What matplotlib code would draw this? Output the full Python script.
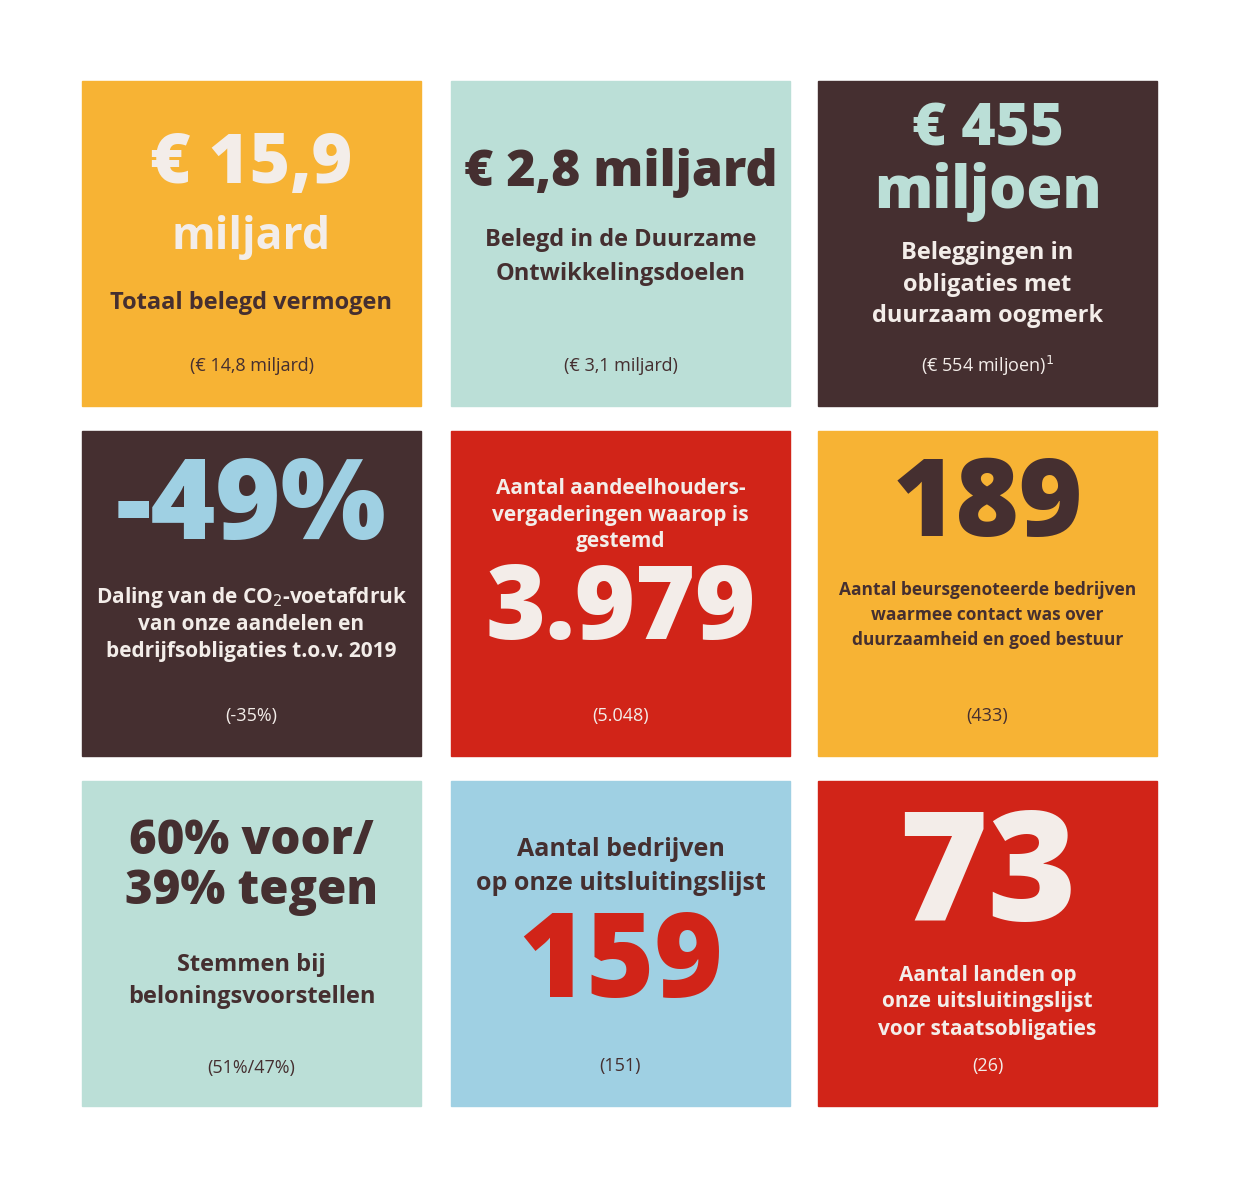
import matplotlib
matplotlib.use("Agg")
import matplotlib.pyplot as plt
from matplotlib.patches import Rectangle

ORANGE, MINT, DARK, RED, BLUE, CREAM = "#F7B334", "#BBDFD7", "#452F30", "#D12418", "#9FD0E3", "#F3EDE9"

headlines = [["€ 15,9"], ["€ 2,8 miljard"], ["€ 455", "miljoen"],
             ["-49%"], ["3.979"], ["189"],
             ["60% voor/", "39% tegen"], ["159"], ["73"]]
subtitles = [["miljard", "Totaal belegd vermogen"],
             ["Belegd in de Duurzame", "Ontwikkelingsdoelen"],
             ["Beleggingen in", "obligaties met", "duurzaam oogmerk"],
             ["Daling van de CO$_2$-voetafdruk", "van onze aandelen en", "bedrijfsobligaties t.o.v. 2019"],
             ["Aantal aandeelhouders-", "vergaderingen waarop is", "gestemd"],
             ["Aantal beursgenoteerde bedrijven", "waarmee contact was over", "duurzaamheid en goed bestuur"],
             ["Stemmen bij", "beloningsvoorstellen"],
             ["Aantal bedrijven", "op onze uitsluitingslijst"],
             ["Aantal landen op", "onze uitsluitingslijst", "voor staatsobligaties"]]
previous = ["(€ 14,8 miljard)", "(€ 3,1 miljard)", "(€ 554 miljoen)$^1$",
            "(-35%)", "(5.048)", "(433)", "(51%/47%)", "(151)", "(26)"]
tile_colors = [ORANGE, MINT, DARK, DARK, RED, ORANGE, MINT, BLUE, RED]
head_colors = [CREAM, DARK, MINT, BLUE, CREAM, DARK, DARK, RED, CREAM]
text_colors = [DARK, DARK, CREAM, CREAM, CREAM, DARK, DARK, DARK, CREAM]

# layout (pixels)
col_x = [82, 451, 818]; row_y = [81, 431, 781]; W, H = 339, 325
head_y = [[84], [92], [49, 111], [79], [181], [77], [61, 111], [185], [101]]
head_fs = [50, 36, 42, 80, 74, 78, 34, 84, 110]
sub_y = [[156, 222], [159, 193], [172, 204, 235], [166, 194, 221], [57, 84, 110],
         [159, 184, 209], [184, 216], [69, 103], [194, 221, 248]]
sub_fs = [[32, 17], 17, 17, 15, 15, 12.5, 17, 18, 15]
prev_y = [285, 285, 285, 285, 285, 285, 287, 285, 285]

fig = plt.figure(figsize=(12.4, 11.81), dpi=100)
ax = fig.add_axes([0, 0, 1, 1])
ax.set_xlim(0, 1240); ax.set_ylim(1181, 0); ax.axis("off")
F = "Open Sans"
for i in range(9):
    x0 = col_x[i % 3]; y0 = row_y[i // 3]; cx = x0 + W / 2
    ax.add_patch(Rectangle((x0, y0), W, H, color=tile_colors[i]))
    for t, yy in zip(headlines[i], head_y[i]):
        ax.text(cx, y0 + yy, t, ha="center", va="center", fontsize=head_fs[i],
                fontweight="heavy", color=head_colors[i], family=F)
    for j, (t, yy) in enumerate(zip(subtitles[i], sub_y[i])):
        fs = sub_fs[i][j] if isinstance(sub_fs[i], list) else sub_fs[i]
        col = head_colors[i] if (i == 0 and j == 0) else text_colors[i]
        ax.text(cx, y0 + yy, t, ha="center", va="center", fontsize=fs,
                fontweight="bold", color=col, family=F)
    ax.text(cx, y0 + prev_y[i], previous[i], ha="center", va="center", fontsize=13,
            color=text_colors[i], family=F)
fig.savefig("out.png", dpi=100, facecolor="white")
